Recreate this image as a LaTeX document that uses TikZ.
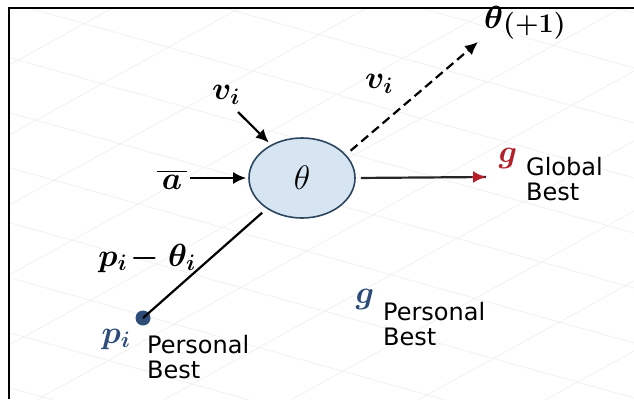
\RequirePackage{fix-cm}
\documentclass[tikz,border=0pt]{standalone}
\usepackage{fontspec}
\setmainfont{DejaVu Sans}
\usepackage{amsmath}
\usepackage{bm}
\usetikzlibrary{arrows.meta,shapes.geometric}
\definecolor{nodefill}{HTML}{D7E5F3}
\definecolor{nodeline}{HTML}{2C465F}
\definecolor{redc}{HTML}{B3202A}
\definecolor{bluec}{HTML}{2D4C78}
\definecolor{gridc}{HTML}{F0F0F0}
\tikzset{
  arr/.style={line width=2.2pt, -{Latex[length=13pt,width=12pt]}},
  plainline/.style={line width=2.2pt},
  mathlbl/.style={font=\fontsize{32}{32}\selectfont, inner sep=0pt},
  txtlbl/.style={font=\fontsize{24}{25}\selectfont, align=left, inner sep=0pt, anchor=north west},
  gridline/.style={draw=gridc, line width=0.7pt},
  frameline/.style={line width=2pt}
}
\begin{document}
\begin{tikzpicture}[x=1pt,y=-1pt]
\useasboundingbox (0,0) rectangle (634,399);
\fill[white] (0,0) rectangle (634,399);
% faint background grid
\begin{scope}
\clip (10,9) rectangle (634,399);
\foreach \y in {-220,-165,...,420} { \draw[gridline] (0,\y) -- (634,\y+178); }
\foreach \y in {0,70,...,770} { \draw[gridline] (0,\y) -- (634,\y-349); }
\end{scope}
% frame
\draw[frameline] (9,399) -- (9,8) -- (634,8);

% central node
\node[ellipse, draw=nodeline, fill=nodefill, line width=1.6pt, minimum width=106pt, minimum height=80pt, inner sep=0pt]
  (theta) at (302,178) {\fontsize{34}{34}\selectfont$\theta$};

% labels
\node[mathlbl] (abar) at (172,180) {$\overline{\,\bm{a}\,}$};
\node[mathlbl] (vtop) at (226,95) {$\bm{v}_{\bm{i}}$};
\node[mathlbl] (vdash) at (379,84) {$\bm{v}_{\bm{i}}$};
\node[mathlbl, anchor=west] (thnext) at (484,23) {$\bm{\theta}$\raisebox{-4pt}{\fontsize{27}{27}\selectfont$\bm{(+1)}$}};
\node[mathlbl] (pdiff) at (147,258) {$\bm{p}_{\bm{i}}\mkern-2mu\bm{-}\mkern1mu\bm{\theta}_{\bm{i}}$};

\node[mathlbl, text=redc] (gred) at (508,158) {$\bm{g}$};
\node[txtlbl] (glob) at (526,157) {Global\\Best};

\node[circle, fill=bluec, minimum size=15pt, inner sep=0pt] (dot) at (143,318) {};
\node[mathlbl, text=bluec] (pi) at (116,339) {$\bm{p}_{\bm{i}}$};
\node[txtlbl] (pbest) at (147,335) {Personal\\Best};

\node[mathlbl, text=bluec] (gblue) at (365,299) {$\bm{g}$};
\node[txtlbl] (gbest) at (383,302) {Personal\\Best};

% connector end points
\coordinate (vstart) at (238,112);
\coordinate (dtip) at (478,42);
\coordinate (rtip) at (486,177);

% connectors
\draw[arr, shorten <=2pt, shorten >=2pt] (abar.east |- theta.west) -- (theta.west);
\draw[arr, shorten >=3pt] (vstart) -- (theta.133);
\draw[arr, dashed, dash pattern=on 9pt off 5pt, shorten <=6pt] (theta.28) -- (dtip);
\draw[plainline, draw=black!85, shorten <=5pt] (theta.east) -- (rtip);
\draw[line width=2.2pt, -{Latex[length=13pt,width=12pt]}, color=redc] ([xshift=-14pt]rtip) -- (rtip);
\draw[plainline, shorten <=6pt] (theta.221) -- (dot.center);
\end{tikzpicture}
\end{document}
